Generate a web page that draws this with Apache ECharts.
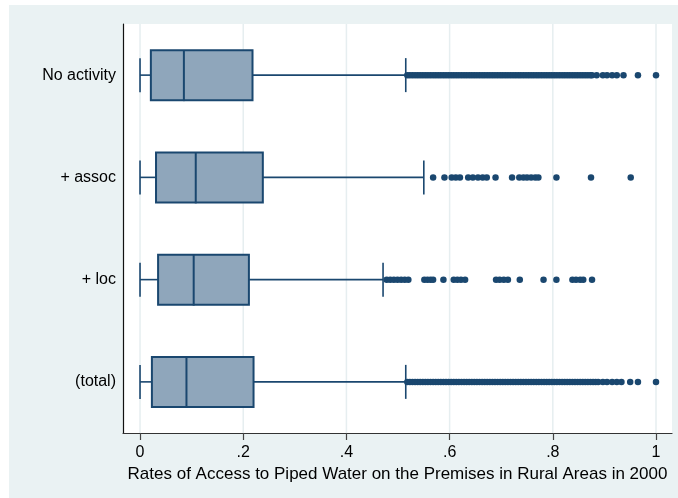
<!DOCTYPE html>
<html>
<head>
<meta charset="utf-8">
<script src="https://cdn.jsdelivr.net/npm/echarts@6/dist/echarts.min.js"></script>
<style>
  html, body { margin: 0; padding: 0; background: #ffffff; }
  #chart { position: absolute; left: 9px; top: 5px; width: 669px; height: 493px; }
</style>
</head>
<body>
<div id="chart"></div>
<script>
// Groups shown on the vertical axis (top to bottom)
const categories = ['No activity', '+ assoc', '+ loc', '(total)'];

// Box summaries per group
const lowerWhisker = [0, 0, 0, 0];
const q1 = [0.021, 0.031, 0.035, 0.023];
const median = [0.085, 0.108, 0.104, 0.090];
const q3 = [0.218, 0.238, 0.211, 0.220];
const upperWhisker = [0.515, 0.550, 0.471, 0.515];

// Outside values per group
const noActivityOutliers = [
  0.518, 0.523, 0.528, 0.533, 0.538, 0.543, 0.548, 0.553, 0.558, 0.563,
  0.568, 0.573, 0.578, 0.583, 0.588, 0.593, 0.598, 0.603, 0.608, 0.613,
  0.618, 0.623, 0.628, 0.633, 0.638, 0.643, 0.648, 0.653, 0.658, 0.663,
  0.668, 0.673, 0.678, 0.683, 0.688, 0.693, 0.698, 0.703, 0.708, 0.713,
  0.718, 0.723, 0.728, 0.733, 0.738, 0.743, 0.748, 0.753, 0.758, 0.763,
  0.768, 0.773, 0.778, 0.783, 0.788, 0.793, 0.798, 0.803, 0.808, 0.813,
  0.818, 0.823, 0.828, 0.833, 0.838, 0.843, 0.848, 0.853, 0.858, 0.863,
  0.868, 0.873, 0.876,
  0.885, 0.897, 0.905, 0.915, 0.924, 0.937, 0.965, 1.0
];
const assocOutliers = [
  0.568, 0.590, 0.604, 0.612, 0.620, 0.636, 0.645, 0.655, 0.664, 0.672,
  0.689, 0.721, 0.735, 0.743, 0.750, 0.758, 0.766, 0.772, 0.807, 0.874, 0.951
];
const locOutliers = [
  0.478, 0.485, 0.492, 0.499, 0.506, 0.513, 0.520, 0.551, 0.557, 0.563,
  0.568, 0.588, 0.608, 0.615, 0.622, 0.630, 0.690, 0.697, 0.705, 0.713,
  0.736, 0.782, 0.807, 0.838, 0.845, 0.853, 0.859, 0.876
];
const totalOutliers = [
  0.518, 0.523, 0.528, 0.533, 0.538, 0.543, 0.548, 0.553, 0.558, 0.563,
  0.568, 0.573, 0.578, 0.583, 0.588, 0.593, 0.598, 0.603, 0.608, 0.613,
  0.618, 0.623, 0.628, 0.633, 0.638, 0.643, 0.648, 0.653, 0.658, 0.663,
  0.668, 0.673, 0.678, 0.683, 0.688, 0.693, 0.698, 0.703, 0.708, 0.713,
  0.718, 0.723, 0.728, 0.733, 0.738, 0.743, 0.748, 0.753, 0.758, 0.763,
  0.768, 0.773, 0.778, 0.783, 0.788, 0.793, 0.798, 0.803, 0.808, 0.813,
  0.818, 0.823, 0.828, 0.833, 0.838, 0.843, 0.848, 0.853, 0.858, 0.863,
  0.868, 0.873, 0.878, 0.883, 0.888,
  0.897, 0.905, 0.915, 0.924, 0.933, 0.950, 0.965, 1.0
];

// Tick positions and their labels on the value axis
const tickValues = [0, 0.2, 0.4, 0.6, 0.8, 1];
const tickLabels = ['0', '.2', '.4', '.6', '.8', '1'];

const NAVY = '#1a476f';
const BOX_FILL = '#8fa6bb';
const GRID_LINE = '#e6eef0';
const FONT = "'Liberation Sans', Arial, sans-serif";

const boxData = categories.map((c, i) =>
  [i, lowerWhisker[i], q1[i], median[i], q3[i], upperWhisker[i]]);

const outlierGroups = [noActivityOutliers, assocOutliers, locOutliers, totalOutliers];
const outlierData = [];
outlierGroups.forEach((vals, i) => vals.forEach(v => outlierData.push([v, i])));

// Vertical grid lines at each labelled tick
function renderGridLine(params, api) {
  const x = api.coord([api.value(0), 0])[0];
  const cs = params.coordSys;
  return {
    type: 'line',
    shape: { x1: x, y1: cs.y, x2: x, y2: cs.y + cs.height },
    style: { stroke: GRID_LINE, lineWidth: 1.5 }
  };
}

function renderBox(params, api) {
  const idx = api.value(0);
  const pLo = api.coord([api.value(1), idx]);
  const pQ1 = api.coord([api.value(2), idx]);
  const pMed = api.coord([api.value(3), idx]);
  const pQ3 = api.coord([api.value(4), idx]);
  const pHi = api.coord([api.value(5), idx]);
  const y = pQ1[1];
  const half = 25;
  const cap = 17;
  const lineStyle = { stroke: NAVY, lineWidth: 1.6, fill: null };
  return {
    type: 'group',
    children: [
      { type: 'line', shape: { x1: pLo[0], y1: y, x2: pQ1[0], y2: y }, style: lineStyle },
      { type: 'line', shape: { x1: pQ3[0], y1: y, x2: pHi[0], y2: y }, style: lineStyle },
      { type: 'line', shape: { x1: pLo[0], y1: y - cap, x2: pLo[0], y2: y + cap }, style: lineStyle },
      { type: 'line', shape: { x1: pHi[0], y1: y - cap, x2: pHi[0], y2: y + cap }, style: lineStyle },
      { type: 'rect', shape: { x: pQ1[0], y: y - half, width: pQ3[0] - pQ1[0], height: 2 * half },
        style: { fill: BOX_FILL, stroke: NAVY, lineWidth: 2, opacity: 1 } },
      { type: 'line', shape: { x1: pMed[0], y1: y - half, x2: pMed[0], y2: y + half + 1 },
        style: { stroke: NAVY, lineWidth: 2 } }
    ]
  };
}

const chart = echarts.init(document.getElementById('chart'), null, { renderer: 'canvas' });
chart.setOption({
  animation: false,
  backgroundColor: '#eaf2f3',
  textStyle: { fontFamily: FONT },
  grid: {
    left: 114, top: 19, right: 6, bottom: 65,
    show: true, backgroundColor: '#ffffff', borderWidth: 0
  },
  xAxis: {
    type: 'value',
    min: -0.033, max: 1.031,
    splitLine: { show: false },
    axisLine: { show: true, onZero: false, lineStyle: { color: '#333', width: 1.2 } },
    axisTick: { show: true, length: 7, lineStyle: { color: '#444', width: 1.2 }, customValues: tickValues },
    axisLabel: {
      customValues: tickValues,
      formatter: v => tickLabels[tickValues.findIndex(t => Math.abs(t - v) < 1e-9)] ?? '',
      color: '#000', fontSize: 16, margin: 12, fontFamily: FONT
    },
    name: 'Rates of Access to Piped Water on the Premises in Rural Areas in 2000',
    nameLocation: 'middle',
    nameGap: 28,
    nameTextStyle: { color: '#000', fontSize: 17, fontFamily: FONT }
  },
  yAxis: {
    type: 'category',
    data: categories,
    inverse: true,
    axisLine: { show: true, onZero: false, lineStyle: { color: '#111', width: 1.2 } },
    axisTick: { show: false },
    splitLine: { show: false },
    axisLabel: { color: '#000', fontSize: 16, margin: 7, fontFamily: FONT }
  },
  series: [
    {
      type: 'custom',
      renderItem: renderGridLine,
      data: tickValues.map(v => [v]),
      encode: { x: 0 },
      silent: true,
      z: 1
    },
    {
      type: 'custom',
      renderItem: renderBox,
      data: boxData,
      encode: { x: [1, 2, 3, 4, 5], y: 0 },
      z: 3
    },
    {
      type: 'scatter',
      data: outlierData,
      symbol: 'circle',
      symbolSize: 6.5,
      itemStyle: { color: NAVY, opacity: 1 },
      z: 4
    }
  ]
});
</script>
</body>
</html>
